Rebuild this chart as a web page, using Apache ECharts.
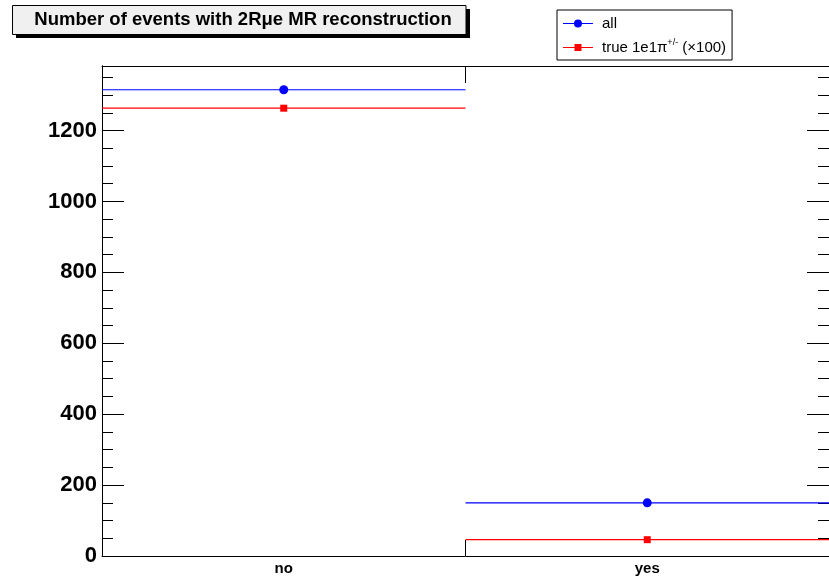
<!DOCTYPE html>
<html><head><meta charset="utf-8">
<script src="https://cdn.jsdelivr.net/npm/echarts@6/dist/echarts.min.js"></script>
<style>html,body{margin:0;padding:0;background:#fff}#c{width:829px;height:578px}</style>
</head><body><div id="c"></div>
<script>
const categories = ['no', 'yes'];
const allValues = [1315, 150];
const trueValues = [1263, 46];
const yTickLabels = [0, 200, 400, 600, 800, 1000, 1200];
const yMax = 1382;
const seriesNames = ['all', 'true 1e1π+/- (×100)'];

const FONT = '"Liberation Sans", Arial, Helvetica, sans-serif';
const chart = echarts.init(document.getElementById('c'), null, {renderer: 'canvas'});

function lineRender(color) {
  return function (params, api) {
    const p = api.coord([api.value(0), api.value(1)]);
    const w = api.size([1, 0])[0];
    return {type: 'line', shape: {x1: p[0] - w / 2, y1: p[1], x2: p[0] + w / 2, y2: p[1]},
      style: {stroke: color, fill: null, lineWidth: 1.2}};
  };
}

const circleIcon = 'path://M0,4.5L30,4.5L30,5.5L0,5.5Z M19,5A4,4 0 1 1 11,5A4,4 0 1 1 19,5Z M0,1L0.01,1L0.01,1.01Z M0,9L0.01,9L0.01,9.01Z';
const squareIcon = 'path://M0,4.5L30,4.5L30,5.5L0,5.5Z M11.5,1.5L18.5,1.5L18.5,8.5L11.5,8.5Z M0,1L0.01,1L0.01,1.01Z M0,9L0.01,9L0.01,9.01Z';

function yAxisDef(position, interval, len, labels) {
  return {
    type: 'value', min: 0, max: yMax, interval: interval, position: position,
    axisLine: {show: true, onZero: false, lineStyle: {color: '#000', width: 1}},
    axisTick: {show: true, inside: true, length: len, lineStyle: {color: '#000'}},
    axisLabel: labels ? {show: true, margin: 5, color: '#000', fontFamily: FONT, fontWeight: 'bold', fontSize: 22,
      formatter: v => (yTickLabels.indexOf(v) >= 0 ? String(v) : '')} : {show: false},
    splitLine: {show: false}
  };
}

chart.setOption({
  animation: false,
  backgroundColor: '#fff',
  tooltip: {show: false},
  grid: {left: 102, right: -2, top: 66, bottom: 22, containLabel: false},
  xAxis: [
    {type: 'category', data: categories, position: 'bottom', boundaryGap: true,
      axisLine: {show: true, onZero: false, lineStyle: {color: '#000'}},
      axisTick: {show: true, inside: true, length: 16, interval: 0, lineStyle: {color: '#000'}},
      axisLabel: {show: true, margin: 5, color: '#000', fontFamily: FONT, fontWeight: 'bold', fontSize: 15, interval: 0},
      splitLine: {show: false}},
    {type: 'category', data: categories, position: 'top', boundaryGap: true,
      axisLine: {show: true, onZero: false, lineStyle: {color: '#000'}},
      axisTick: {show: true, inside: true, length: 17, interval: 0, lineStyle: {color: '#000'}},
      axisLabel: {show: false}, splitLine: {show: false}}
  ],
  yAxis: [
    yAxisDef('left', 200, 22, true),
    yAxisDef('left', 50, 11, false),
    yAxisDef('right', 200, 22, false),
    yAxisDef('right', 50, 11, false)
  ],
  legend: {
    orient: 'vertical', left: 557, top: 10, padding: [4, 6, 3, 6], itemGap: 5,
    itemWidth: 30, itemHeight: 8, selectedMode: false,
    borderColor: '#000', borderWidth: 1, backgroundColor: '#fff', borderRadius: 0,
    data: [{name: seriesNames[0], icon: circleIcon}, {name: seriesNames[1], icon: squareIcon}],
    formatter: function (name) {
      if (name === seriesNames[1]) return 'true 1e1π{sup|+/-} (×100)';
      return name;
    },
    textStyle: {color: '#000', fontFamily: FONT, fontSize: 15, padding: [0, 0, 0, 4], lineHeight: 19,
      rich: {sup: {fontSize: 9, fontFamily: FONT, color: '#000', verticalAlign: 'top', lineHeight: 19, padding: [0, 0, 6, 0]}}}
  },
  series: [
    {name: seriesNames[0], type: 'scatter', data: allValues, symbol: 'circle', symbolSize: 9,
      itemStyle: {color: '#0000ff', opacity: 1}, z: 8, emphasis: {disabled: true}, silent: true},
    {name: seriesNames[1], type: 'scatter', data: trueValues, symbol: 'rect', symbolSize: 7,
      itemStyle: {color: '#ff0000', opacity: 1}, z: 8, emphasis: {disabled: true}, silent: true},
    {name: 'allLine', type: 'custom', renderItem: lineRender('#0000ff'), itemStyle: {color: '#0000ff'},
      data: categories.map((c, i) => [i, allValues[i]]), encode: {x: 0, y: 1}, z: 7,
      emphasis: {disabled: true}, silent: true},
    {name: 'trueLine', type: 'custom', renderItem: lineRender('#ff0000'), itemStyle: {color: '#ff0000'},
      data: categories.map((c, i) => [i, trueValues[i]]), encode: {x: 0, y: 1}, z: 7,
      emphasis: {disabled: true}, silent: true}
  ],
  graphic: [
    {type: 'rect', shape: {x: 16, y: 9, width: 454, height: 29}, style: {fill: '#000'}, z: 10},
    {type: 'rect', shape: {x: 12.5, y: 5.5, width: 453.5, height: 29}, style: {fill: '#f0f0f0', stroke: '#000', lineWidth: 1}, z: 11},
    {type: 'text', x: 243, y: 20, style: {text: 'Number of events with 2Rμe MR reconstruction', fill: '#000',
      font: 'bold 18.5px ' + FONT, textAlign: 'center', textVerticalAlign: 'middle'}, z: 12}
  ]
});
</script></body></html>
